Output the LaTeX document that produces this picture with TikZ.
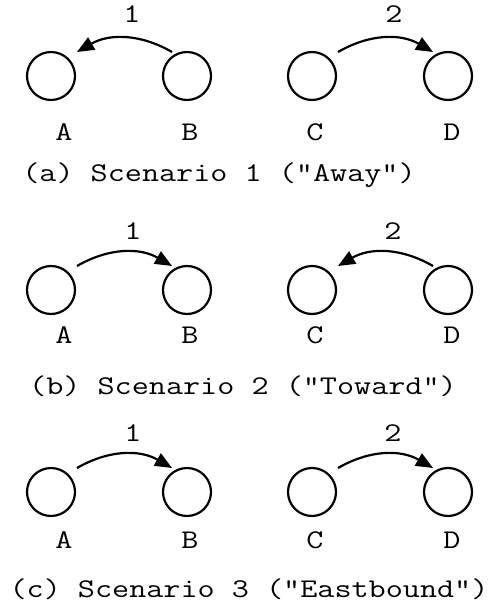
\documentclass[tikz,border=0pt]{standalone}
\usepackage{fontspec}
\newfontfamily\cour{Latin Modern Mono}[FakeStretch=1.23]
\newcommand\qq{\char34 }
\usetikzlibrary{arrows.meta}
\begin{document}
\begin{tikzpicture}[x=1pt,y=-1pt,
  every node/.style={font=\cour\fontsize{27}{31}\selectfont, inner sep=0pt},
  state/.style={circle, draw, line width=2.2pt, minimum size=48pt, inner sep=0pt},
  lbl/.style={anchor=base},
  move/.style={line width=2.2pt, -{Triangle[length=17pt,width=14pt]}}
]
\useasboundingbox (0,0) rectangle (491,602);
% ---------- Scenario 1
\node[state] (A1) at (51,76) {};
\node[state] (B1) at (187,76) {};
\node[state] (C1) at (312,76) {};
\node[state] (D1) at (448,76) {};
\node[lbl] (lA1) at (64,140) {A};
\node[lbl] (lB1) at (190,140) {B};
\node[lbl] (lC1) at (315,140) {C};
\node[lbl] (lD1) at (452,140) {D};
\node[lbl] (n11) at (132,23) {1};
\node[lbl] (n21) at (394,23) {2};
\draw[move] ([shift={(-15,-24)}]B1.center) to[bend right=30] ([shift={(26,-24)}]A1.center);
\draw[move] ([shift={(26,-24)}]C1.center) to[bend left=30] ([shift={(-15,-24)}]D1.center);
\node[lbl] (capa) at (219,181) {(a) Scenario 1 (\qq Away\qq)};
% ---------- Scenario 2
\node[state] (A2) at (51,290) {};
\node[state] (B2) at (187,290) {};
\node[state] (C2) at (312,290) {};
\node[state] (D2) at (448,290) {};
\node[lbl] (lA2) at (64,343) {A};
\node[lbl] (lB2) at (190,343) {B};
\node[lbl] (lC2) at (315,343) {C};
\node[lbl] (lD2) at (452,343) {D};
\node[lbl] (n12) at (133,239) {1};
\node[lbl] (n22) at (393,239) {2};
\draw[move] ([shift={(26,-24)}]A2.center) to[bend left=30] ([shift={(-15,-24)}]B2.center);
\draw[move] ([shift={(-15,-24)}]D2.center) to[bend right=30] ([shift={(26,-24)}]C2.center);
\node[lbl] (capb) at (243,394) {(b) Scenario 2 (\qq Toward\qq)};
% ---------- Scenario 3
\node[state] (A3) at (51,492) {};
\node[state] (B3) at (187,492) {};
\node[state] (C3) at (312,492) {};
\node[state] (D3) at (448,492) {};
\node[lbl] (lA3) at (64,548) {A};
\node[lbl] (lB3) at (190,548) {B};
\node[lbl] (lC3) at (315,548) {C};
\node[lbl] (lD3) at (452,548) {D};
\node[lbl] (n13) at (133,441) {1};
\node[lbl] (n23) at (393,441) {2};
\draw[move] ([shift={(26,-24)}]A3.center) to[bend left=30] ([shift={(-15,-24)}]B3.center);
\draw[move] ([shift={(26,-24)}]C3.center) to[bend left=30] ([shift={(-15,-24)}]D3.center);
\node[lbl] (capc) at (249,597) {(c) Scenario 3 (\qq Eastbound\qq)};
\end{tikzpicture}
\end{document}
